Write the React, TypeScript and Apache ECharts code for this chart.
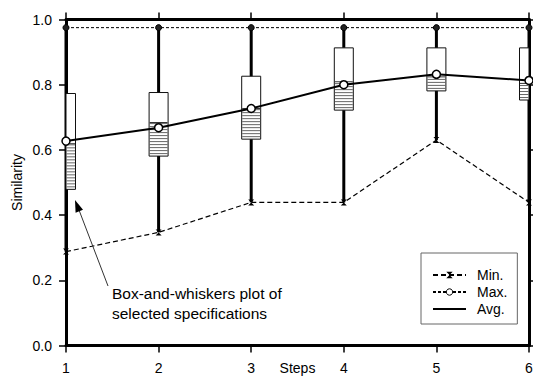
import React, { useEffect, useRef } from "react";
import * as echarts from "echarts";

const steps = [1, 2, 3, 4, 5, 6];
const minValues = [0.288, 0.347, 0.439, 0.439, 0.63, 0.439];
const maxValues = [0.975, 0.975, 0.975, 0.975, 0.975, 0.975];
const avgValues = [0.627, 0.668, 0.727, 0.8, 0.832, 0.813];
const boxLow = [0.479, 0.581, 0.633, 0.722, 0.781, 0.753];
const boxMid = [0.619, 0.684, 0.727, 0.809, 0.824, 0.804];
const boxHigh = [0.773, 0.776, 0.826, 0.913, 0.913, 0.913];

const FONT = "Liberation Sans";

export default function App() {
  const ref = useRef<HTMLDivElement>(null);
  useEffect(() => {
    if (!ref.current) return;
    const chart = echarts.init(ref.current, undefined, { renderer: "svg" });
    const boxData = steps.map((s, i) => [s, minValues[i], boxLow[i], boxMid[i], boxHigh[i], maxValues[i]]);
    const axisLine = { show: true, onZero: false, lineStyle: { color: "#000", width: 3 } };
    const axisTick = { show: true, length: 7, lineStyle: { color: "#000", width: 1.5 } };
    const option: any = {
      animation: false,
      backgroundColor: "#fff",
      grid: { left: 66, right: 4, top: 19.5, bottom: 31.5, containLabel: false, outerBoundsMode: "none" },
      xAxis: [
        {
          type: "value", min: 1, max: 6, interval: 1, position: "bottom",
          name: "Steps", nameLocation: "middle", nameGap: 14, nameMoveOverlap: false,
          nameTextStyle: { fontFamily: FONT, fontSize: 14, color: "#000", lineHeight: 16 },
          axisLine, axisTick,
          axisLabel: { fontFamily: FONT, fontSize: 14, color: "#000", margin: 15 },
          splitLine: { show: false },
        },
        {
          type: "value", min: 1, max: 6, interval: 1, position: "top",
          axisLine, axisTick,
          axisLabel: { show: false },
          splitLine: { show: false },
        },
      ],
      yAxis: [
        {
          type: "value", min: 0, max: 1, interval: 0.2, position: "left",
          name: "Similarity", nameLocation: "middle", nameGap: 42, nameMoveOverlap: false,
          nameTextStyle: { fontFamily: FONT, fontSize: 14, color: "#000" },
          axisLine, axisTick,
          axisLabel: { fontFamily: FONT, fontSize: 14, color: "#000", margin: 14, formatter: (v: number) => v.toFixed(1) },
          splitLine: { show: false },
        },
        {
          type: "value", min: 0, max: 1, interval: 0.2, position: "right",
          axisLine, axisTick,
          axisLabel: { show: false },
          splitLine: { show: false },
        },
      ],
      legend: {
        orient: "vertical", left: 421, top: 253,
        data: [
          { name: "Min." },
          { name: "Max.", itemStyle: { color: "#fff", borderColor: "#000", borderWidth: 1 } },
          { name: "Avg.", itemStyle: { opacity: 0 } },
        ],
        itemWidth: 33, itemHeight: 8, itemGap: 3,
        backgroundColor: "#fff", borderColor: "#666", borderWidth: 1, borderRadius: 0,
        padding: [15, 10, 8, 11],
        textStyle: { fontFamily: FONT, fontSize: 14, color: "#000", lineHeight: 14, padding: [0, 0, 0, 6] },
        selectedMode: false,
      },
      series: [
        {
          type: "custom",
          name: "Box",
          xAxisIndex: 0, yAxisIndex: 0,
          data: boxData,
          encode: { x: 0, y: [1, 2, 3, 4, 5] },
          z: 1,
          renderItem: (params: any, api: any) => {
            const x = api.value(0);
            const pMin = api.coord([x, api.value(1)]);
            const pLow = api.coord([x, api.value(2)]);
            const pMid = api.coord([x, api.value(3)]);
            const pHigh = api.coord([x, api.value(4)]);
            const pMax = api.coord([x, api.value(5)]);
            const cs = params.coordSys;
            const half = 9.5;
            const left = Math.max(pLow[0] - half, cs.x);
            const right = Math.min(pLow[0] + half, cs.x + cs.width);
            const children: any[] = [
              {
                type: "line",
                shape: { x1: pMin[0], y1: pMin[1], x2: pMax[0], y2: pMax[1] },
                style: { stroke: "#000", lineWidth: 3 },
              },
              {
                type: "rect",
                shape: { x: left, y: pHigh[1], width: right - left, height: pLow[1] - pHigh[1] },
                style: { fill: "#fff", stroke: "#111", lineWidth: 1 },
              },
            ];
            for (let y = pLow[1] - 2.5; y > pMid[1]; y -= 3) {
              children.push({
                type: "line",
                shape: { x1: left + 0.5, y1: y, x2: right - 0.5, y2: y },
                style: { stroke: "#555", lineWidth: 0.9 },
              });
            }
            children.push({
              type: "line",
              shape: { x1: left + 0.5, y1: pMid[1], x2: right - 0.5, y2: pMid[1] },
              style: { stroke: "#333", lineWidth: 1 },
            });
            return { type: "group", children };
          },
        },
        {
          type: "line", name: "Min.",
          data: steps.map((s, i) => [s, minValues[i]]),
          symbol: "path://M0,0 L10,0 L0,10 L10,10 Z", symbolSize: 6,
          lineStyle: { color: "#000", width: 1.2, type: [5, 3] },
          itemStyle: { color: "#000" },
          z: 3,
        },
        {
          type: "line", name: "Max.",
          data: steps.map((s, i) => [s, maxValues[i]]),
          symbol: "circle", symbolSize: 6,
          lineStyle: { color: "#000", width: 1, type: [3, 2] },
          itemStyle: { color: "#222", borderColor: "#000", borderWidth: 1 },
          z: 3,
        },
        {
          type: "line", name: "Average",
          data: steps.map((s, i) => [s, avgValues[i]]),
          symbol: "circle", symbolSize: 8,
          lineStyle: { color: "#000", width: 2 },
          itemStyle: { color: "#fff", borderColor: "#000", borderWidth: 1.5 },
          z: 4,
        },
        {
          type: "line", name: "Avg.",
          data: [],
          symbol: "none",
          lineStyle: { color: "#000", width: 1.3 },
          itemStyle: { color: "#000" },
        },
      ],
      graphic: [
        {
          type: "line",
          shape: { x1: 108, y1: 286, x2: 79, y2: 210 },
          style: { stroke: "#333", lineWidth: 1 },
          z: 10,
        },
        {
          type: "polygon",
          shape: { points: [[75, 200], [83, 209.8], [75.6, 212.7]] },
          style: { fill: "#000" },
          z: 10,
        },
        {
          type: "text", x: 112, y: 293,
          style: { text: "Box-and-whiskers plot of", fontFamily: FONT, fontSize: 15.5, fill: "#000", verticalAlign: "middle" },
          z: 10,
        },
        {
          type: "text", x: 112, y: 313,
          style: { text: "selected specifications", fontFamily: FONT, fontSize: 15.5, fill: "#000", verticalAlign: "middle" },
          z: 10,
        },
      ],
    };
    chart.setOption(option);
    return () => chart.dispose();
  }, []);
  return <div ref={ref} style={{ width: 533, height: 377, position: "absolute", left: 0, top: 0 }} />;
}
